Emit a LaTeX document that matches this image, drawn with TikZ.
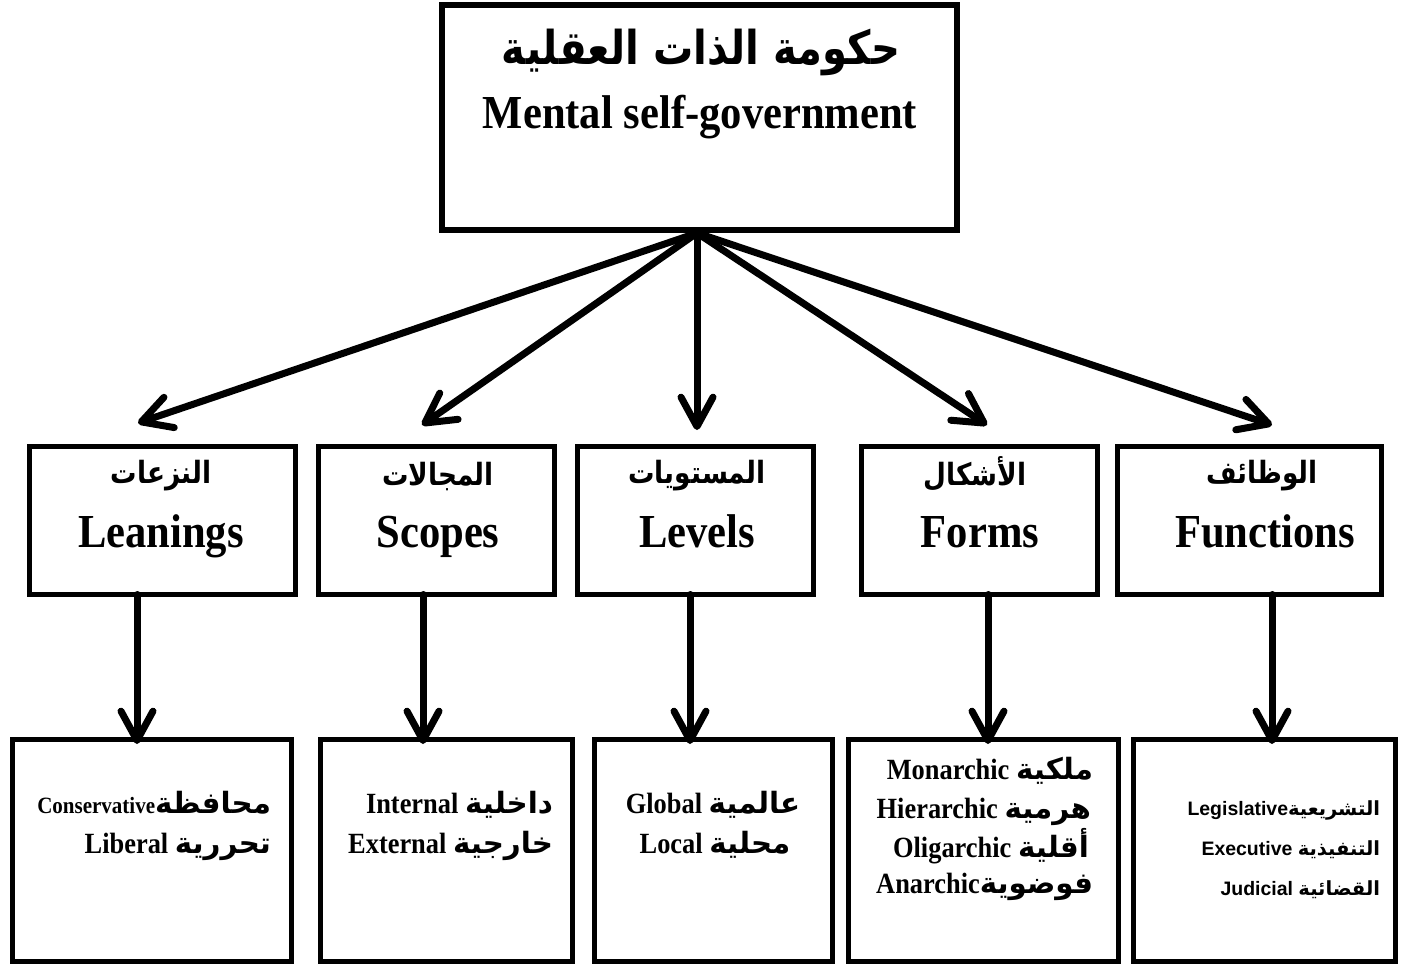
\documentclass[tikz,border=0pt]{standalone}
\usepackage{fontspec}
\usetikzlibrary{arrows.meta}
\TeXXeTstate=1
\setmainfont{Liberation Serif}
\newfontfamily\tnr{Liberation Serif}[FakeStretch=0.9]
\newfontfamily\arfont[Script=Arabic]{DejaVu Sans}
\newfontfamily\arialfont{Liberation Sans}
\newcommand\AR[1]{{\arfont\bfseries\beginR #1\endR}}
\newcommand\NAR[1]{\scalebox{0.86}[1]{\AR{#1}}}
\begin{document}
\begin{tikzpicture}[x=0.75pt,y=-0.75pt,
  box/.style 2 args={draw, line width=3.75pt, inner sep=0pt, outer sep=0pt,
    minimum width=#1*0.75pt, minimum height=#2*0.75pt},
  topbox/.style={draw, line width=4.9pt, inner sep=0pt, outer sep=0pt,
    minimum width=515*0.75pt, minimum height=225*0.75pt},
  lbl/.style={inner sep=0pt, outer sep=0pt},
  arr/.style={line width=5.25pt, line cap=round,
    -{Straight Barb[length=22pt, width=24pt, round]}},
  ttitle/.style={font=\tnr\bfseries\fontsize{35.5}{40}\selectfont},
  tmid/.style={font=\tnr\bfseries\fontsize{35.5}{42}\selectfont},
  tlow/.style={font=\tnr\bfseries\fontsize{22}{26}\selectfont},
  tsans/.style={font=\arialfont\bfseries\fontsize{14.6}{18}\selectfont}
]
\useasboundingbox (0,0) rectangle (1405,967);

% top box
\node[topbox] (top) at (699.5,117.5) {};
\node[lbl] (topAr) at (701,52) {\fontsize{35}{40}\selectfont\NAR{حكومة الذات العقلية}};
\node[lbl, ttitle, anchor=base] (topEn) at (700,128) {Mental self-government};

% middle boxes
\node[box={266}{148}] (mL) at (162.5,520.5) {};
\node[box={236}{148}] (mS) at (436.5,520.5) {};
\node[box={236}{148}] (mV) at (695.5,520.5) {};
\node[box={236}{148}] (mF) at (979.5,520.5) {};
\node[box={264}{148}] (mU) at (1249.5,520.5) {};

\node[lbl] (mLar) at (161,476) {\fontsize{23}{28}\selectfont\NAR{النزعات}};
\node[lbl] (mSar) at (438,476) {\fontsize{23}{28}\selectfont\NAR{المجالات}};
\node[lbl] (mVar) at (697,476) {\fontsize{23}{28}\selectfont\NAR{المستويات}};
\node[lbl] (mFar) at (975,474) {\fontsize{23}{28}\selectfont\NAR{الأشكال}};
\node[lbl] (mUar) at (1262,476) {\fontsize{23}{28}\selectfont\NAR{الوظائف}};

\node[lbl, tmid, anchor=base] (mLen) at (161,547) {Leanings};
\node[lbl, tmid, anchor=base] (mSen) at (438,547) {Scopes};
\node[lbl, tmid, anchor=base] (mVen) at (697,547) {Levels};
\node[lbl, tmid, anchor=base] (mFen) at (980,547) {Forms};
\node[lbl, tmid, anchor=base] (mUen) at (1265,547) {Functions};

% bottom boxes
\node[box={279}{222}] (bL) at (152,850.5) {};
\node[box={252}{222}] (bS) at (446.5,850.5) {};
\node[box={238}{222}] (bV) at (713.5,850.5) {};
\node[box={270}{222}] (bF) at (983.5,850.5) {};
\node[box={262}{222}] (bU) at (1264.5,850.5) {};

\node[lbl, tlow, anchor=base east] (bL1) at (271,813) {{\fontsize{17.5}{20}\selectfont Conservative}\AR{محافظة}};
\node[lbl, tlow, anchor=base east] (bL2) at (271,853) {Liberal \AR{تحررية}};
\node[lbl, tlow, anchor=base east] (bS1) at (553,813) {Internal \AR{داخلية}};
\node[lbl, tlow, anchor=base east] (bS2) at (553,853) {External \AR{خارجية}};
\node[lbl, tlow, anchor=base] (bV1) at (713,813) {Global \AR{عالمية}};
\node[lbl, tlow, anchor=base] (bV2) at (715,853) {Local \AR{محلية}};
\node[lbl, tlow, anchor=base east] (bF1) at (1093,779) {Monarchic \AR{ملكية}};
\node[lbl, tlow, anchor=base east] (bF2) at (1091,818) {Hierarchic \AR{هرمية}};
\node[lbl, tlow, anchor=base east] (bF3) at (1089,857) {Oligarchic \AR{أقلية}};
\node[lbl, tlow, anchor=base east] (bF4) at (1093,893) {Anarchic\AR{فوضوية}};
\node[lbl, tsans, anchor=base east] (bU1) at (1380,815) {Legislative\AR{التشريعية}};
\node[lbl, tsans, anchor=base east] (bU2) at (1380,855) {Executive \AR{التنفيذية}};
\node[lbl, tsans, anchor=base east] (bU3) at (1380,895) {Judicial \AR{القضائية}};

% connector ends
\coordinate (hub) at (697,233);
\coordinate (dL) at (138,423);
\coordinate (dS) at (422,425);
\coordinate (dV) at (697,430);
\coordinate (dF) at (987,425);
\coordinate (dU) at (1272,425);
\coordinate (vL) at (137,744);
\coordinate (vS) at (423,744);
\coordinate (vV) at (690,744);
\coordinate (vF) at (988,744);
\coordinate (vU) at (1272,744);

\draw[arr] (hub) -- (dL);
\draw[arr] (hub) -- (dS);
\draw[arr] (hub) -- (dV);
\draw[arr] (hub) -- (dF);
\draw[arr] (hub) -- (dU);

\draw[arr] (mL.south -| vL) -- (vL);
\draw[arr] (mS.south -| vS) -- (vS);
\draw[arr] (mV.south -| vV) -- (vV);
\draw[arr] (mF.south -| vF) -- (vF);
\draw[arr] (mU.south -| vU) -- (vU);
\end{tikzpicture}
\end{document}
